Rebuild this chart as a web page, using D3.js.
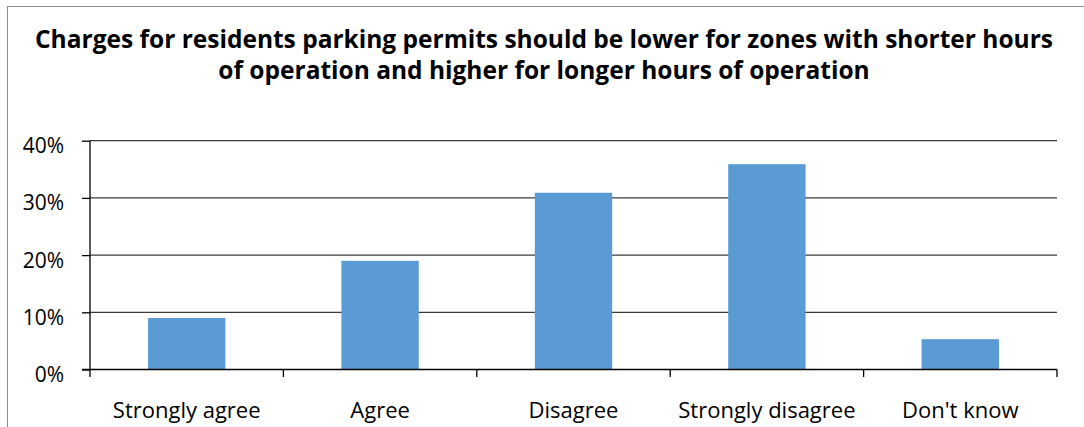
<!DOCTYPE html>
<html>
<head>
<meta charset="utf-8">
<script src="https://cdn.jsdelivr.net/npm/d3@7"></script>
<style>
  body { margin: 0; background: #fff; }
  text { font-family: "Open Sans", "Liberation Sans", sans-serif; fill: #000; }
</style>
</head>
<body>
<svg id="chart" width="1084" height="427"></svg>
<script>
// chart data
var categories = ["Strongly agree", "Agree", "Disagree", "Strongly disagree", "Don't know"];
var values = [0.09, 0.19, 0.309, 0.359, 0.053];
var yTicks = [0, 0.1, 0.2, 0.3, 0.4];
var titleLines = [
  "Charges for residents parking permits should be lower for zones with shorter hours",
  "of operation and higher for longer hours of operation"
];

var svg = d3.select("#chart");
var fontStack = "'Open Sans', 'Liberation Sans', sans-serif";

// plot area
var plotLeft = 90, plotRight = 1057, plotTop = 140.7, plotBottom = 369.5;

// outer chart frame
svg.append("rect")
  .attr("x", 7.5).attr("y", 6.5)
  .attr("width", 1100).attr("height", 440)
  .attr("fill", "none")
  .attr("stroke", "#8c8c8c")
  .attr("stroke-width", 1);

var x = d3.scaleBand()
  .domain(categories)
  .range([plotLeft, plotRight])
  .paddingInner(0.6)
  .paddingOuter(0.3);

var y = d3.scaleLinear()
  .domain([0, 0.4])
  .range([plotBottom, plotTop]);

// title
svg.append("g").selectAll("text")
  .data(titleLines)
  .enter()
  .append("text")
  .attr("x", 544)
  .attr("y", function(d, i) { return 48 + i * 31; })
  .attr("text-anchor", "middle")
  .style("font-size", "24.5px")
  .style("font-weight", 700)
  .text(function(d) { return d; });

// gridlines
svg.append("g").selectAll("line")
  .data(yTicks.slice(1))
  .enter()
  .append("line")
  .attr("x1", plotLeft).attr("x2", plotRight)
  .attr("y1", function(d) { return y(d); })
  .attr("y2", function(d) { return y(d); })
  .attr("stroke", "#3a3a3a")
  .attr("stroke-width", 1.3);

// bars
svg.append("g").selectAll("rect")
  .data(values)
  .enter()
  .append("rect")
  .attr("x", function(d, i) { return x(categories[i]); })
  .attr("width", x.bandwidth())
  .attr("y", function(d) { return y(d); })
  .attr("height", function(d) { return y(0) - y(d); })
  .attr("fill", "#5b9bd5");

// y axis
var yAxis = svg.append("g")
  .attr("transform", "translate(" + plotLeft + ",0)")
  .call(d3.axisLeft(y).tickValues(yTicks).tickSize(8).tickPadding(18).tickFormat(d3.format(".0%")));
yAxis.select(".domain").remove();
yAxis.selectAll(".tick line").attr("stroke", "#000").attr("stroke-width", 1.3);
yAxis.selectAll("text")
  .attr("dy", "0.57em")
  .style("font-size", "21px")
  .style("font-family", fontStack)
  .attr("fill", "#000");
svg.append("line")
  .attr("x1", plotLeft).attr("x2", plotLeft)
  .attr("y1", plotTop).attr("y2", plotBottom + 7.5)
  .attr("stroke", "#000").attr("stroke-width", 1.3);

// x axis line and category boundary ticks
svg.append("line")
  .attr("x1", plotLeft - 8).attr("x2", plotRight)
  .attr("y1", plotBottom).attr("y2", plotBottom)
  .attr("stroke", "#000").attr("stroke-width", 1.3);

var gap = (x.step() - x.bandwidth()) / 2;
var bounds = categories.map(function(c) { return x(c) + x.bandwidth() + gap; });
svg.append("g").selectAll("line")
  .data(bounds)
  .enter()
  .append("line")
  .attr("x1", function(d) { return d; })
  .attr("x2", function(d) { return d; })
  .attr("y1", plotBottom).attr("y2", plotBottom + 7.5)
  .attr("stroke", "#000").attr("stroke-width", 1.3);

// category labels
var xAxis = svg.append("g")
  .attr("transform", "translate(0," + plotBottom + ")")
  .call(d3.axisBottom(x).tickSize(0).tickPadding(32.5));
xAxis.select(".domain").remove();
xAxis.selectAll("text")
  .style("font-size", "22px")
  .style("font-family", fontStack)
  .attr("fill", "#000");
</script>
</body>
</html>
